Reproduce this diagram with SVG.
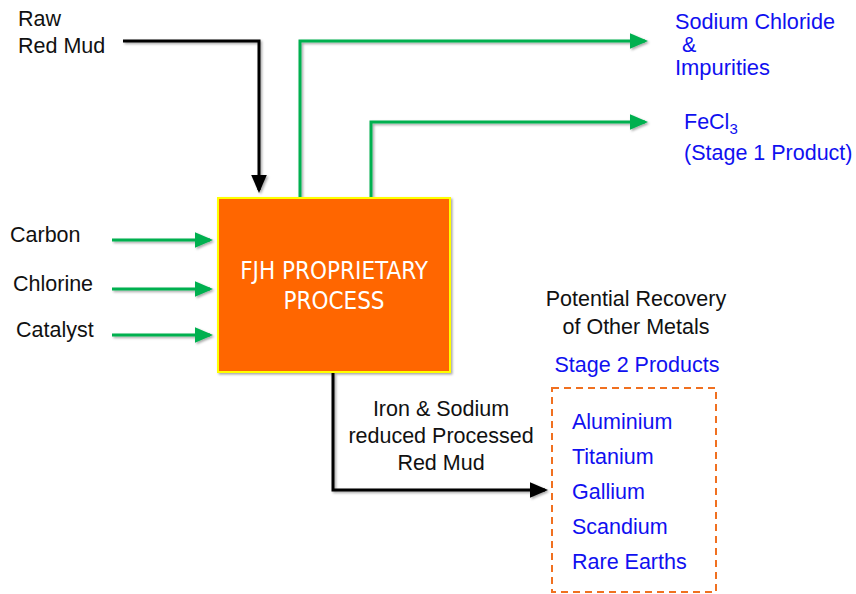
<svg xmlns="http://www.w3.org/2000/svg" width="856" height="594" viewBox="0 0 856 594">
<style>
.lbl{font-family:"Liberation Sans",Arial,sans-serif;font-size:21.5px;fill:#111}
.blue{font-family:"Liberation Sans",Arial,sans-serif;font-size:21.5px;fill:#1010f0}
.g{fill:none;stroke:#00b050;stroke-width:3}
.k{fill:none;stroke:#000;stroke-width:3}
.title{font-family:"Liberation Sans Narrow","DejaVu Sans Condensed","Liberation Sans",sans-serif;font-size:24px;fill:#fff}
</style>
<defs>
<marker id="ag" markerWidth="6" markerHeight="6" refX="5" refY="3" orient="auto" markerUnits="strokeWidth"><path d="M0,0.4 L6,3 L0,5.6 Z" fill="#00b050"/></marker>
<marker id="ak" markerWidth="6" markerHeight="6" refX="5" refY="3" orient="auto" markerUnits="strokeWidth"><path d="M0,0.4 L6,3 L0,5.6 Z" fill="#000"/></marker>
<filter id="sh" x="-10%" y="-10%" width="130%" height="130%"><feDropShadow dx="1.5" dy="1.5" stdDeviation="1.2" flood-color="#000" flood-opacity="0.35"/></filter>
</defs>
<rect width="856" height="594" fill="#fff"/>
<g id="connectors" filter="url(#sh)">
<path class="k" d="M123,41 H259 V190" marker-end="url(#ak)"/>
<path class="g" d="M300,197 V41 H645" marker-end="url(#ag)"/>
<path class="g" d="M371,197 V122 H645" marker-end="url(#ag)"/>
<path class="g" d="M112,240 H210" marker-end="url(#ag)"/>
<path class="g" d="M112,289 H210" marker-end="url(#ag)"/>
<path class="g" d="M112,335 H210" marker-end="url(#ag)"/>
<path class="k" d="M333,373 V490 H545" marker-end="url(#ak)"/>
</g>
<g id="process">
<rect x="218" y="198" width="232" height="174" fill="#ff6600" stroke="#ffff00" stroke-width="2" filter="url(#sh)"/>
<text class="title" x="334" y="279" text-anchor="middle">FJH PROPRIETARY</text>
<text class="title" x="334" y="309" text-anchor="middle">PROCESS</text>
</g>
<g id="raw-red-mud"><text class="lbl" x="18" y="26">Raw</text><text class="lbl" x="18" y="53">Red Mud</text></g>
<g id="carbon"><text class="lbl" x="10" y="242">Carbon</text></g>
<g id="chlorine"><text class="lbl" x="13" y="291">Chlorine</text></g>
<g id="catalyst"><text class="lbl" x="16" y="337">Catalyst</text></g>
<g id="sodium-chloride">
<text class="blue" x="675" y="29" font-size="19.5" textLength="160" lengthAdjust="spacingAndGlyphs">Sodium Chloride</text>
<text class="blue" x="682" y="52" font-size="19.5">&amp;</text>
<text class="blue" x="675" y="75" font-size="19.5" textLength="95" lengthAdjust="spacingAndGlyphs">Impurities</text>
</g>
<g id="fecl3">
<text class="blue" x="684" y="129">FeCl<tspan font-size="15" dy="5">3</tspan></text>
<text class="blue" x="684" y="160">(Stage 1 Product)</text>
</g>
<g id="processed-mud">
<text class="lbl" x="441" y="416" text-anchor="middle">Iron &amp; Sodium</text>
<text class="lbl" x="441" y="443" text-anchor="middle">reduced Processed</text>
<text class="lbl" x="441" y="470" text-anchor="middle">Red Mud</text>
</g>
<g id="recovery">
<text class="lbl" x="636" y="306" text-anchor="middle" font-size="22.5">Potential Recovery</text>
<text class="lbl" x="636" y="334" text-anchor="middle" font-size="22.5">of Other Metals</text>
<text class="blue" x="637" y="372" text-anchor="middle">Stage 2 Products</text>
</g>
<g id="stage2">
<rect x="552" y="388" width="164" height="204" fill="none" stroke="#f07020" stroke-width="2" stroke-dasharray="7,5"/>
<text class="blue" x="572" y="429">Aluminium</text>
<text class="blue" x="572" y="464">Titanium</text>
<text class="blue" x="572" y="499">Gallium</text>
<text class="blue" x="572" y="534">Scandium</text>
<text class="blue" x="572" y="569">Rare Earths</text>
</g>
</svg>
